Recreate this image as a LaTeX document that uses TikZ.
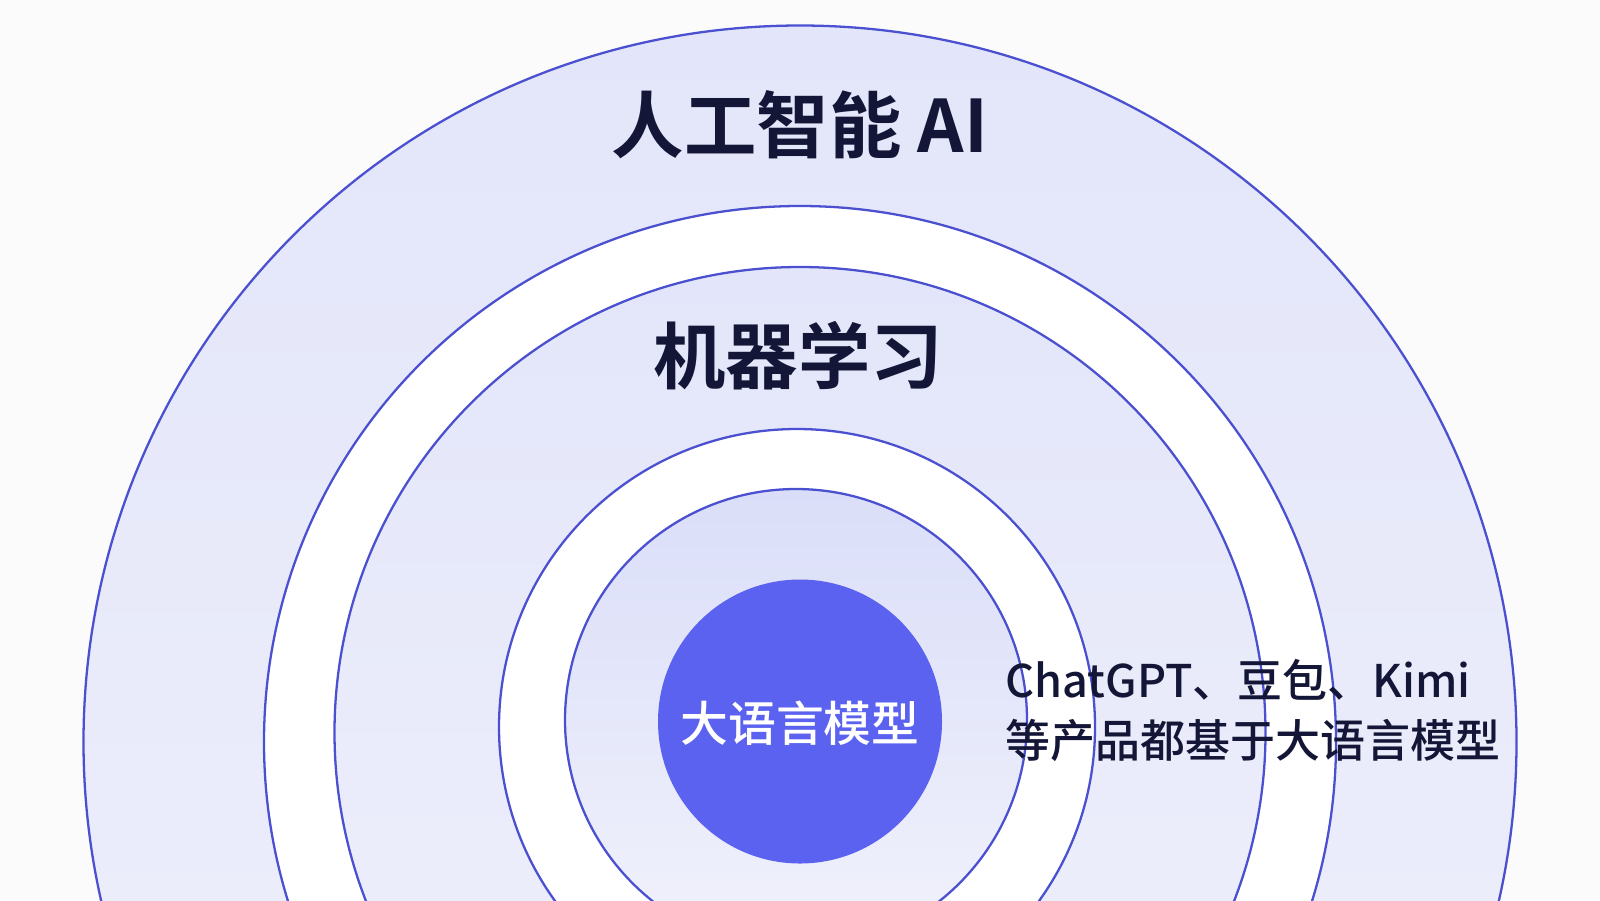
\documentclass[tikz,border=0pt]{standalone}
\usepackage{fontspec}
\setmainfont{Noto Sans CJK SC}
\newfontfamily\cjkbold{Noto Sans CJK SC Bold}
\newfontfamily\cjkmed{Noto Sans CJK SC Medium}
\definecolor{bgc}{HTML}{FBFBFC}
\definecolor{lineblue}{HTML}{4A50D0}
\definecolor{lavtop}{HTML}{E3E6FA}
\definecolor{lavbot}{HTML}{F0F1FB}
\definecolor{lavtopin}{HTML}{DADEF8}
\definecolor{lavbotin}{HTML}{F1F2FC}
\definecolor{diskblue}{HTML}{5A62EF}
\definecolor{navy}{HTML}{131636}
\tikzset{
  ringline/.style={draw=lineblue, line width=0.65pt},
  lavfill/.style={top color=lavtop, bottom color=lavbot},
  lavfillin/.style={top color=lavtopin, bottom color=lavbotin},
  whitefill/.style={fill=white},
  bigtitle/.style={font=\cjkbold\fontsize{20.6pt}{24pt}\selectfont, text=navy, inner sep=0pt},
  disklabel/.style={font=\cjkmed\fontsize{13.6pt}{16pt}\selectfont, text=white, inner sep=0pt},
  sidetext/.style={font=\cjkmed\fontsize{12.8pt}{16pt}\selectfont, text=navy, inner sep=0pt, anchor=base west}
}
\begin{document}
\begin{tikzpicture}
\useasboundingbox (0,0) rectangle (16,-9);
\fill[bgc] (0,0) rectangle (16,-9);
\begin{scope}
\clip (0,0) rectangle (16,-9);
\path[lavfill] (8.00,-7.42) circle (7.165);
\path[whitefill] (8.00,-7.42) circle (5.36);
\path[lavfill] (8.00,-7.325) circle (4.655);
\path[whitefill] (7.97,-7.27) circle (2.98);
\path[lavfillin] (7.96,-7.20) circle (2.31);
\draw[ringline] (8.00,-7.42) circle (7.165);
\draw[ringline] (8.00,-7.42) circle (5.36);
\draw[ringline] (8.00,-7.325) circle (4.655);
\draw[ringline] (7.97,-7.27) circle (2.98);
\draw[ringline] (7.96,-7.20) circle (2.31);
\fill[diskblue] (8.00,-7.215) circle (1.42);
\end{scope}
\node[bigtitle] (ai) at (8.00,-1.25) {人工智能 AI};
\node[bigtitle] (ml) at (7.98,-3.56) {机器学习};
\node[disklabel] (llm) at (8.00,-7.23) {大语言模型};
\node[sidetext] (prod1) at (10.05,-6.97) {ChatGPT、豆包、Kimi};
\node[sidetext] (prod2) at (10.05,-7.57) {等产品都基于大语言模型};
\end{tikzpicture}
\end{document}
